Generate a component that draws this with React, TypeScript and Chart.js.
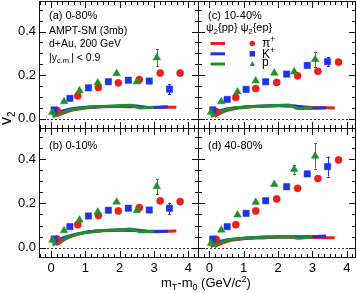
import React, { useEffect, useRef } from "react";
import { Chart, registerables } from "chart.js";
Chart.register(...registerables);

const W = 357;
const H = 293;
const FONT = "'Liberation Sans', Arial, Helvetica, sans-serif";
const RED = "#e8201e";
const BLUE = "#1c34e6";
const GREEN = "#22902a";

const X_TICKS = [0, 1, 2, 3, 4];
const Y_TICKS = [0, 0.2, 0.4];
const X_MINOR_STEP = 1 / 6;
const Y_MINOR_STEP = 0.05;
const Y_RANGE = [-0.042, 0.54];
const X_RANGE_LEFT = [-0.35, 4.28];
const X_RANGE_RIGHT = [-0.33, 4.24];

// ψ2{pp} curve nodes (mT - m0)
const PI_LINE_X = [0.15, 0.5, 1.0, 1.5, 2.0, 2.5, 3.0, 3.65];
const K_LINE_X = [0.1, 0.5, 1.0, 1.5, 2.0, 2.4, 2.9, 3.4];
const P_LINE_X = [0.04, 0.5, 1.0, 1.5, 2.0, 2.3, 2.6, 3.0];

// ψ2{ep} points x positions
const PI_X_L = [0.18, 0.78, 1.38, 1.96, 2.57, 3.18, 3.76];
const K_X_L = [0.09, 0.55, 1.09, 1.67, 2.25, 2.86, 3.45];
const P_X_L = [0.04, 0.38, 0.83, 1.36, 1.91, 2.5, 3.08];
const PI_X_R = [0.2, 0.77, 1.35, 1.96, 2.57, 3.16, 3.76];
const K_X_R = [0.1, 0.52, 1.07, 1.64, 2.25, 2.85, 3.44];
const P_X_R = [0.05, 0.35, 0.82, 1.35, 1.89, 2.47, 3.08];

// (a) 0-80%
const A_PI_V = [0.038, 0.105, 0.144, 0.165, 0.18, 0.21, 0.21];
const A_PI_E = [0.003, 0.004, 0.005, 0.006, 0.007, 0.008, 0.012];
const A_K_V = [0.041, 0.094, 0.142, 0.17, 0.177, 0.173, 0.136];
const A_K_E = [0.003, 0.004, 0.005, 0.006, 0.007, 0.01, 0.022];
const A_P_V = [0.03, 0.079, 0.129, 0.165, 0.208, 0.17, 0.28];
const A_P_E = [0.003, 0.004, 0.005, 0.006, 0.007, 0.012, 0.038];
const A_PI_LINE = [0.012, 0.035, 0.05, 0.055, 0.057, 0.055, 0.052, 0.053];
const A_K_LINE = [0.025, 0.043, 0.053, 0.056, 0.059, 0.06, 0.052, 0.055];
const A_P_LINE = [0.01, 0.038, 0.052, 0.057, 0.06, 0.062, 0.05, 0.053];

// (b) 0-10%
const B_PI_V = [0.039, 0.104, 0.145, 0.166, 0.181, 0.211, 0.208];
const B_PI_E = [0.003, 0.004, 0.005, 0.006, 0.007, 0.008, 0.012];
const B_K_V = [0.039, 0.095, 0.143, 0.169, 0.178, 0.17, 0.178];
const B_K_E = [0.003, 0.004, 0.005, 0.006, 0.007, 0.01, 0.025];
const B_P_V = [0.035, 0.077, 0.125, 0.161, 0.206, 0.168, 0.276];
const B_P_E = [0.003, 0.004, 0.005, 0.006, 0.007, 0.012, 0.035];
const B_PI_LINE = [0.012, 0.045, 0.068, 0.076, 0.079, 0.077, 0.074, 0.075];
const B_K_LINE = [0.03, 0.052, 0.07, 0.077, 0.08, 0.081, 0.072, 0.074];
const B_P_LINE = [0.012, 0.048, 0.068, 0.077, 0.081, 0.084, 0.072, 0.074];

// (c) 10-40%
const C_PI_V = [0.033, 0.098, 0.139, 0.167, 0.197, 0.218, 0.26];
const C_PI_E = [0.003, 0.004, 0.005, 0.006, 0.007, 0.008, 0.01];
const C_K_V = [0.041, 0.089, 0.135, 0.17, 0.205, 0.245, 0.262];
const C_K_E = [0.003, 0.004, 0.005, 0.006, 0.007, 0.01, 0.02];
const C_P_V = [0.03, 0.079, 0.124, 0.174, 0.21, 0.216, 0.272];
const C_P_E = [0.003, 0.004, 0.005, 0.006, 0.007, 0.012, 0.036];
const C_PI_LINE = [0.012, 0.038, 0.052, 0.058, 0.06, 0.058, 0.052, 0.05];
const C_K_LINE = [0.028, 0.045, 0.054, 0.058, 0.061, 0.06, 0.049, 0.051];
const C_P_LINE = [0.01, 0.043, 0.053, 0.058, 0.061, 0.063, 0.047, 0.052];

// (d) 40-80%
const D_PI_V = [0.038, 0.104, 0.166, 0.22, 0.268, 0.312, 0.396];
const D_PI_E = [0.003, 0.004, 0.005, 0.006, 0.007, 0.009, 0.015];
const D_K_V = [0.039, 0.095, 0.155, 0.212, 0.275, 0.333, 0.366];
const D_K_E = [0.003, 0.004, 0.005, 0.006, 0.007, 0.012, 0.045];
const D_P_V = [0.02, 0.08, 0.148, 0.205, 0.286, 0.354, 0.414];
const D_P_E = [0.003, 0.004, 0.005, 0.006, 0.008, 0.02, 0.057];
const D_PI_LINE = [0.005, 0.028, 0.04, 0.044, 0.047, 0.047, 0.046, 0.045];
const D_K_LINE = [0.022, 0.035, 0.043, 0.047, 0.049, 0.049, 0.05, 0.053];
const D_P_LINE = [0.005, 0.033, 0.043, 0.047, 0.049, 0.049, 0.043, 0.05];

type Mk = { x: number[]; v: number[]; e: number[]; color: string; style: string; r: number };
type Ln = { x: number[]; v: number[]; color: string };

function mk(x: number[], pi: number[], pie: number[], kx: number[], k: number[], ke: number[], px: number[], p: number[], pe: number[]): Mk[] {
  return [
    { x, v: pi, e: pie, color: RED, style: "circle", r: 3.6 },
    { x: kx, v: k, e: ke, color: BLUE, style: "rect", r: 4.5 },
    { x: px, v: p, e: pe, color: GREEN, style: "triangle", r: 4.4 },
  ];
}
function ln(pi: number[], k: number[], p: number[]): Ln[] {
  return [
    { x: PI_LINE_X, v: pi, color: RED },
    { x: K_LINE_X, v: k, color: BLUE },
    { x: P_LINE_X, v: p, color: GREEN },
  ];
}

const PANELS = [
  {
    key: "a", box: { l: 39, r: 198, t: 1, b: 128 }, xRange: X_RANGE_LEFT, showX: false, showY: true,
    markers: mk(PI_X_L, A_PI_V, A_PI_E, K_X_L, A_K_V, A_K_E, P_X_L, A_P_V, A_P_E),
    lines: ln(A_PI_LINE, A_K_LINE, A_P_LINE), label: "(a) 0-80%", labelY: 18.5, extra: "ampt",
  },
  {
    key: "b", box: { l: 39, r: 198, t: 128, b: 257 }, xRange: X_RANGE_LEFT, showX: true, showY: true,
    markers: mk(PI_X_L, B_PI_V, B_PI_E, K_X_L, B_K_V, B_K_E, P_X_L, B_P_V, B_P_E),
    lines: ln(B_PI_LINE, B_K_LINE, B_P_LINE), label: "(b) 0-10%", labelY: 149, extra: "titles",
  },
  {
    key: "c", box: { l: 198, r: 355, t: 1, b: 128 }, xRange: X_RANGE_RIGHT, showX: false, showY: false,
    markers: mk(PI_X_R, C_PI_V, C_PI_E, K_X_R, C_K_V, C_K_E, P_X_R, C_P_V, C_P_E),
    lines: ln(C_PI_LINE, C_K_LINE, C_P_LINE), label: "(c) 10-40%", labelY: 18.5, extra: "legend",
  },
  {
    key: "d", box: { l: 198, r: 355, t: 128, b: 257 }, xRange: X_RANGE_RIGHT, showX: true, showY: false,
    markers: mk(PI_X_R, D_PI_V, D_PI_E, K_X_R, D_K_V, D_K_E, P_X_R, D_P_V, D_P_E),
    lines: ln(D_PI_LINE, D_K_LINE, D_P_LINE), label: "(d) 40-80%", labelY: 149, extra: "",
  },
];

function rich(ctx: CanvasRenderingContext2D, x: number, y: number, parts: any[]) {
  let cx = x;
  for (const [t, size, dy, italic] of parts) {
    ctx.font = `${italic ? "italic " : ""}${size}px ${FONT}`;
    ctx.fillText(t, cx, y + dy);
    cx += ctx.measureText(t).width;
  }
}

function drawMarker(ctx: CanvasRenderingContext2D, style: string, x: number, y: number, s: number, color: string) {
  ctx.fillStyle = color;
  ctx.beginPath();
  if (style === "circle") ctx.arc(x, y, s, 0, Math.PI * 2);
  else if (style === "rect") ctx.rect(x - s, y - s, 2 * s, 2 * s);
  else {
    ctx.moveTo(x, y - s * 1.15);
    ctx.lineTo(x + s, y + s * 0.75);
    ctx.lineTo(x - s, y + s * 0.75);
    ctx.closePath();
  }
  ctx.fill();
}

function makeDeco(p: any) {
  return {
    id: "deco" + p.key,
    beforeDatasetsDraw(chart: any) {
      const { ctx, chartArea: ca, scales } = chart;
      const xs = scales.x, ys = scales.y;
      ctx.save();
      const y0 = Math.round(ys.getPixelForValue(0)) + 0.5;
      ctx.strokeStyle = "#333";
      ctx.lineWidth = 1;
      ctx.setLineDash([2, 2]);
      ctx.beginPath();
      ctx.moveTo(ca.left, y0);
      ctx.lineTo(ca.right, y0);
      ctx.stroke();
      ctx.setLineDash([]);
      for (const s of p.markers) {
        ctx.strokeStyle = s.color;
        s.x.forEach((xv: number, i: number) => {
          const e = s.e[i];
          const px = Math.round(xs.getPixelForValue(xv)) + 0.5;
          const top = ys.getPixelForValue(s.v[i] + e);
          const bot = ys.getPixelForValue(s.v[i] - e);
          if (bot - top < 8) return;
          ctx.beginPath();
          ctx.moveTo(px, top);
          ctx.lineTo(px, bot);
          ctx.moveTo(px - 1.5, Math.round(top) + 0.5);
          ctx.lineTo(px + 1.5, Math.round(top) + 0.5);
          ctx.moveTo(px - 1.5, Math.round(bot) + 0.5);
          ctx.lineTo(px + 1.5, Math.round(bot) + 0.5);
          ctx.stroke();
        });
      }
      ctx.restore();
    },
    afterDraw(chart: any) {
      const { ctx, chartArea: ca, scales } = chart;
      const xs = scales.x, ys = scales.y;
      const L = Math.round(ca.left) + 0.5, R = Math.round(ca.right) + 0.5;
      const T = Math.round(ca.top) + 0.5, B = Math.round(ca.bottom) + 0.5;
      ctx.save();
      ctx.strokeStyle = "#111";
      ctx.lineWidth = 1;
      ctx.strokeRect(L, T, R - L, B - T);
      ctx.beginPath();
      // y ticks
      const y0i = Math.ceil(Y_RANGE[0] / Y_MINOR_STEP), y1i = Math.floor(Y_RANGE[1] / Y_MINOR_STEP);
      for (let i = y0i; i <= y1i; i++) {
        const v = i * Y_MINOR_STEP;
        const major = i % 4 === 0;
        const len = major ? 6.5 : 3.5;
        const py = Math.round(ys.getPixelForValue(v)) + 0.5;
        ctx.moveTo(L, py); ctx.lineTo(L + len, py);
        ctx.moveTo(R, py); ctx.lineTo(R - len, py);
      }
      const x0i = Math.ceil(p.xRange[0] / X_MINOR_STEP + 1e-6), x1i = Math.floor(p.xRange[1] / X_MINOR_STEP - 1e-6);
      for (let i = x0i; i <= x1i; i++) {
        const v = i * X_MINOR_STEP;
        const major = i % 6 === 0;
        const len = major ? 6.5 : 3.5;
        const px = Math.round(xs.getPixelForValue(v)) + 0.5;
        ctx.moveTo(px, B); ctx.lineTo(px, B - len);
        ctx.moveTo(px, T); ctx.lineTo(px, T + len);
      }
      ctx.stroke();

      ctx.fillStyle = "#000";
      ctx.textAlign = "left";
      ctx.textBaseline = "alphabetic";
      const tx = ca.left + 10;
      rich(ctx, tx, p.labelY, [[p.label, 11, 0]]);
      if (p.extra === "ampt") {
        rich(ctx, tx, 34.3, [["AMPT-SM (3mb)", 10.5, 0]]);
        rich(ctx, tx, 47.3, [["d+Au, 200 GeV", 10.5, 0]]);
        rich(ctx, tx, 60.5, [["|y", 10.5, 0], ["c.m.", 7.5, 2.5], ["| < 0.9", 10.5, 0]]);
      }
      if (p.extra === "legend") {
        rich(ctx, tx - 2, 31, [["ψ", 11, 0], ["2", 7.5, 2.5], ["{pp} ψ", 11, 0], ["2", 7.5, 2.5], ["{ep}", 11, 0]]);
        const rows = [43.5, 53.8, 64];
        const labels = [[["π", 12, 0], ["+", 8.5, -5]], [["K", 12, 0], ["+", 8.5, -5]], [["p", 12, 0]]];
        const baseDy = [3.8, 4.3, 2.3];
        p.markers.forEach((s: any, i: number) => {
          ctx.strokeStyle = s.color;
          ctx.lineWidth = 3;
          ctx.beginPath();
          ctx.moveTo(210.5, rows[i]);
          ctx.lineTo(225, rows[i]);
          ctx.stroke();
          drawMarker(ctx, s.style, 252.3, rows[i], 2.7, s.color);
          ctx.fillStyle = "#000";
          rich(ctx, 262, rows[i] + baseDy[i], labels[i]);
        });
      }
      if (p.extra === "titles") {
        ctx.fillStyle = "#000";
        rich(ctx, 161, 287, [["m", 13, 0], ["T", 9, 3], ["-m", 13, 0], ["0", 9, 3], [" (GeV/", 13, 0], ["c", 13, 0, true], ["2", 9, -5.5], [")", 13, 0]]);
        ctx.save();
        ctx.translate(11, 125);
        ctx.rotate(-Math.PI / 2);
        rich(ctx, 0, 0, [["v", 16, 0], ["2", 10, 3.5]]);
        ctx.restore();
      }
      ctx.restore();
    },
  };
}

function buildConfig(p: any) {
  const datasets: any[] = [];
  p.lines.forEach((l: Ln, i: number) => {
    datasets.push({
      label: "line" + i,
      data: l.x.map((x, j) => ({ x, y: l.v[j] })),
      showLine: true,
      borderColor: l.color,
      backgroundColor: l.color,
      borderWidth: 3,
      pointRadius: 0,
      cubicInterpolationMode: "monotone",
      order: 20 - i,
    });
  });
  p.markers.forEach((s: Mk, i: number) => {
    datasets.push({
      label: "mk" + i,
      data: s.x.map((x, j) => ({ x, y: s.v[j] })),
      showLine: false,
      pointStyle: s.style,
      pointRadius: s.r,
      pointBackgroundColor: s.color,
      pointBorderColor: s.color,
      pointBorderWidth: 0.5,
      order: 5 - i,
    });
  });
  const yW = p.showY ? 39 : 0;
  const xH = p.showX ? 36 : 0;
  return {
    type: "scatter",
    data: { datasets },
    plugins: [makeDeco(p)],
    options: {
      animation: false,
      responsive: false,
      devicePixelRatio: 1,
      events: [],
      layout: {
        autoPadding: false,
        padding: { left: p.box.l - yW, top: p.box.t, right: W - p.box.r, bottom: H - p.box.b - xH },
      },
      plugins: { legend: { display: false }, tooltip: { enabled: false } },
      scales: {
        x: {
          type: "linear",
          min: p.xRange[0],
          max: p.xRange[1],
          grid: { display: false, drawTicks: false },
          border: { display: false },
          ticks: {
            display: p.showX,
            padding: 4,
            color: "#000",
            font: { family: FONT, size: 13 },
            callback: (v: any) => String(Math.round(Number(v))),
          },
          afterBuildTicks: (s: any) => { s.ticks = X_TICKS.map((v) => ({ value: v })); },
          afterFit: (s: any) => { s.height = xH; s.paddingLeft = 0; s.paddingRight = 0; s.paddingTop = 0; s.paddingBottom = 0; },
        },
        y: {
          type: "linear",
          min: Y_RANGE[0],
          max: Y_RANGE[1],
          grid: { display: false, drawTicks: false },
          border: { display: false },
          ticks: {
            display: p.showY,
            padding: 3,
            color: "#000",
            font: { family: FONT, size: 13 },
            callback: (v: any) => Number(v).toFixed(1),
          },
          afterBuildTicks: (s: any) => { s.ticks = Y_TICKS.map((v) => ({ value: v })); },
          afterFit: (s: any) => { s.width = yW; s.paddingLeft = 0; s.paddingRight = 0; s.paddingTop = 0; s.paddingBottom = 0; },
        },
      },
    },
  };
}

function Panel({ p }: { p: any }) {
  const ref = useRef<HTMLCanvasElement>(null);
  useEffect(() => {
    const chart = new Chart(ref.current as HTMLCanvasElement, buildConfig(p) as any);
    return () => chart.destroy();
  }, [p]);
  return (
    <canvas
      ref={ref}
      width={W}
      height={H}
      style={{ position: "absolute", left: 0, top: 0, width: W, height: H }}
    />
  );
}

export default function App() {
  return (
    <div style={{ position: "absolute", left: 0, top: 0, width: W, height: H, background: "#fff", overflow: "hidden" }}>
      {PANELS.map((p) => (
        <Panel key={p.key} p={p} />
      ))}
    </div>
  );
}
